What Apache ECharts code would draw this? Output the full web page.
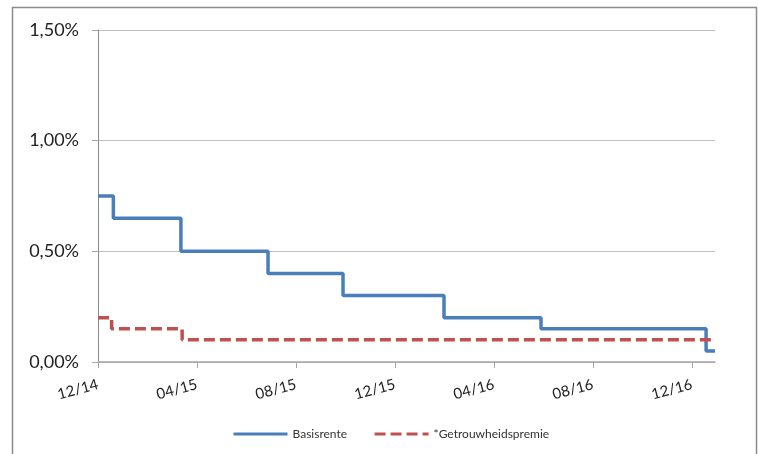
<!DOCTYPE html>
<html>
<head>
<meta charset="utf-8">
<script src="https://cdn.jsdelivr.net/npm/echarts@6/dist/echarts.min.js"></script>
<style>
  html, body { margin: 0; padding: 0; background: #fff; }
  #chart { width: 758px; height: 454px; }
</style>
</head>
<body>
<div id="chart"></div>
<script>
// x in months since 12/14
var tickLabels = ['12/14', '04/15', '08/15', '12/15', '04/16', '08/16', '12/16'];
var tickMonths = [0, 4, 8, 12, 16, 20, 24];

var basisMonths = [0, 0.62, 3.35, 6.87, 9.9, 13.98, 17.9, 24.57, 24.93];
var basisValues = [0.75, 0.65, 0.50, 0.40, 0.30, 0.20, 0.15, 0.05, 0.05];

var premieMonths = [0, 0.55, 3.4, 24.93];
var premieValues = [0.20, 0.15, 0.10, 0.10];

function pairs(xs, ys) {
    var out = [];
    for (var i = 0; i < xs.length; i++) {
        out.push([xs[i], ys[i]]);
    }
    return out;
}

var chart = echarts.init(document.getElementById('chart'));
var font = 'Lato, "Liberation Sans", sans-serif';
var option = {
    animation: false,
    graphic: [{
        type: 'rect',
        shape: { x: 12.5, y: 7.5, width: 744, height: 460 },
        style: { fill: 'none', stroke: '#8c8c8c', lineWidth: 1.5 },
        silent: true
    }],
    grid: { left: 98, right: 43, top: 30, bottom: 92 },
    legend: {
        bottom: 9,
        left: 227,
        itemWidth: 54,
        itemHeight: 10,
        itemGap: 26,
        itemStyle: { opacity: 0 },
        lineStyle: { width: 3 },
        textStyle: { fontFamily: font, fontSize: 12, color: '#333' },
        data: ['Basisrente', '*Getrouwheidspremie']
    },
    xAxis: {
        type: 'value',
        min: 0,
        max: 24.93,
        interval: 4,
        axisLine: { show: true, lineStyle: { color: '#a6a6a6', width: 1.5 } },
        axisTick: {
            show: true, length: 6,
            customValues: tickMonths,
            lineStyle: { color: '#a6a6a6', width: 1 }
        },
        axisLabel: {
            rotate: 15,
            margin: 22,
            customValues: tickMonths,
            fontFamily: font,
            fontSize: 15,
            color: '#222',
            formatter: function (v) {
                var i = tickMonths.indexOf(v);
                return i >= 0 ? tickLabels[i] : '';
            }
        },
        splitLine: { show: false }
    },
    yAxis: {
        type: 'value',
        min: 0,
        max: 1.5,
        interval: 0.5,
        axisLine: { show: true, lineStyle: { color: '#8c8c8c', width: 1 } },
        axisTick: { show: true, length: 6, lineStyle: { color: '#a6a6a6' } },
        axisLabel: {
            margin: 19,
            fontFamily: font,
            fontSize: 18,
            color: '#222',
            formatter: function (v) {
                return v.toFixed(2).replace('.', ',') + '%';
            }
        },
        splitLine: { show: true, lineStyle: { color: '#bfbfbf', width: 1.2 } }
    },
    series: [
        {
            name: 'Basisrente',
            type: 'line',
            step: 'end',
            symbol: 'none',
            data: pairs(basisMonths, basisValues),
            lineStyle: { color: '#4a7ebb', width: 3.5 },
            itemStyle: { color: '#4a7ebb' }
        },
        {
            name: '*Getrouwheidspremie',
            type: 'line',
            step: 'end',
            symbol: 'none',
            data: pairs(premieMonths, premieValues),
            lineStyle: { color: '#c0504d', width: 3.5, type: [11, 5] },
            itemStyle: { color: '#c0504d' }
        }
    ]
};
chart.setOption(option);
</script>
</body>
</html>
